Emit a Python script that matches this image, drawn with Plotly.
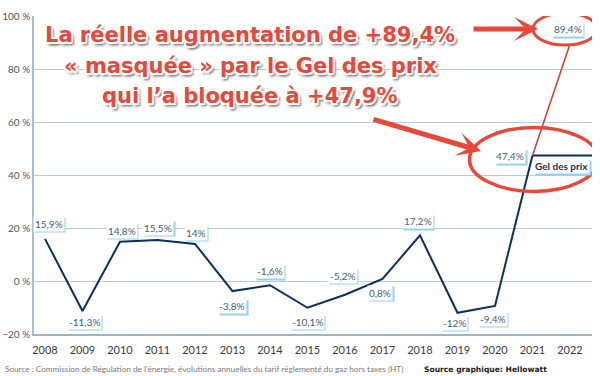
import plotly.graph_objects as go

# ---------------- data ----------------
years = [2008, 2009, 2010, 2011, 2012, 2013, 2014, 2015, 2016, 2017, 2018, 2019, 2020, 2021]
values = [15.9, -11.3, 14.8, 15.5, 14.0, -3.8, -1.6, -10.1, -5.2, 0.8, 17.2, -12.0, -9.4, 47.4]
labels = ["15,9%", "-11,3%", "14,8%", "15,5%", "14%", "-3,8%", "-1,6%", "-10,1%",
          "-5,2%", "0,8%", "17,2%", "-12%", "-9,4%", "47,4%"]
real_year = 2022
real_value = 89.4
real_label = "89,4%"
gel_label = "Gel des prix"
tick_years = list(range(2008, 2023))
title_lines = ["La réelle augmentation de +89,4%",
               "« masquée » par le Gel des prix",
               "qui l’a bloquée à +47,9%"]
source_text = ("Source : Commission de Régulation de l'énergie, évolutions annuelles du tarif "
               "réglementé du gaz hors taxes (HT)")
credit_text = "Source graphique: Hellowatt"

# ---------------- style ----------------
W, H = 600, 376
ML, MR, MT, MB = 34, 8, 16, 42
XR = [2007.707, 2022.587]
YR = [-20, 100]
NAVY = "#0b2f5e"
RED = "#e8473a"
GRID = "#b9cbdd"
LBL_TXT = "#44607e"
LBL_SHADOW = "#93d2ea"
# label placement: (dx, dy) in px, dy positive = up
label_pos = [(4, 15), (2, -11), (2, 11), (1, 12), (1, 11), (0, -15), (0, 14), (0, -14),
             (-2, 19), (-2, -14), (-2, 14), (-3, -10), (-2, -13), (-22, -1)]

PW = W - ML - MR
PH = H - MT - MB


def px(x):
    return (x - ML) / PW


def py(y):
    return (H - MB - y) / PH


fig = go.Figure()

fig.add_trace(go.Scatter(x=years, y=values, mode="lines",
                         line=dict(color=NAVY, width=2), hoverinfo="skip"))
# Gel des prix plateau
fig.add_trace(go.Scatter(x=[years[-1], XR[1]], y=[values[-1], values[-1]], mode="lines",
                         line=dict(color=NAVY, width=2), hoverinfo="skip"))
# real increase
fig.add_trace(go.Scatter(x=[years[-1], real_year], y=[values[-1], real_value], mode="lines",
                         line=dict(color="#d23a2f", width=1.5), hoverinfo="skip"))

annotations = []


def add_label(x, y, text, dx, dy, color=LBL_TXT, weight="normal", size=10):
    # shadow box (right/bottom edge)
    annotations.append(dict(x=x, y=y, xref="x", yref="y", text=text, showarrow=False,
                            xshift=dx + 1.5, yshift=dy - 1.5,
                            font=dict(family="Lato", size=size, color=LBL_SHADOW, weight=weight),
                            bgcolor=LBL_SHADOW, borderpad=1))
    annotations.append(dict(x=x, y=y, xref="x", yref="y", text=text, showarrow=False,
                            xshift=dx, yshift=dy,
                            font=dict(family="Lato", size=size, color=color, weight=weight),
                            bgcolor="white", borderpad=1))


for yr, v, t, (dx, dy) in zip(years, values, labels, label_pos):
    add_label(yr, v, t, dx, dy)
add_label(real_year, real_value, real_label, -2, 15)
add_label(real_year, values[-1], gel_label, -8, -11, color="#1d3250", weight="bold")

# big title
outline = ("1.5px 1.5px 0 #fff, -1.5px -1.5px 0 #fff, 1.5px -1.5px 0 #fff, -1.5px 1.5px 0 #fff, "
           "0 2px 0 #fff, 2px 0 0 #fff, 0 -2px 0 #fff, -2px 0 0 #fff, "
           "3px 3px 2px rgba(0,0,0,0.45), 1px 4px 3px rgba(0,0,0,0.3)")
for i, line in enumerate(title_lines):
    annotations.append(dict(x=px(250), y=py(35 + 30.5 * i), xref="paper", yref="paper",
                            text=line, showarrow=False, xanchor="center", yanchor="middle",
                            font=dict(family="DejaVu Sans", size=21, color=RED, weight="bold",
                                      shadow=outline)))

# arrows
annotations.append(dict(x=px(538), y=py(29), xref="paper", yref="paper", text="",
                        showarrow=True, arrowhead=3, arrowsize=0.8, arrowwidth=5,
                        arrowcolor=RED, ax=-66, ay=0, standoff=0))
annotations.append(dict(x=px(481), y=py(151), xref="paper", yref="paper", text="",
                        showarrow=True, arrowhead=3, arrowsize=0.8, arrowwidth=5,
                        arrowcolor=RED, ax=-109, ay=-32, standoff=0))

# sources
annotations.append(dict(x=px(3), y=py(369), xref="paper", yref="paper", xanchor="left",
                        yanchor="middle", text=source_text, showarrow=False,
                        font=dict(family="Lato", size=8.2, color="#7a7a7a")))
annotations.append(dict(x=px(422), y=py(369), xref="paper", yref="paper", xanchor="left",
                        yanchor="middle", text=credit_text, showarrow=False,
                        font=dict(family="DejaVu Sans", size=7.6, color="#222", weight="bold")))

shapes = [
    dict(type="circle", xref="x", yref="y", xsizemode="pixel", ysizemode="pixel",
         xanchor=real_year, yanchor=real_value, x0=-37, x1=27, y0=-1, y1=31,
         line=dict(color=RED, width=3)),
    dict(type="circle", xref="x", yref="y", xsizemode="pixel", ysizemode="pixel",
         xanchor=years[-1], yanchor=values[-1], x0=-63, x1=66, y0=-36, y1=28,
         line=dict(color=RED, width=3.5)),
]

fig.update_layout(
    width=W, height=H,
    margin=dict(l=ML, r=MR, t=MT, b=MB, autoexpand=False),
    paper_bgcolor="white", plot_bgcolor="white",
    showlegend=False,
    annotations=annotations,
    shapes=shapes,
    xaxis=dict(range=XR, tickmode="array", tickvals=tick_years, ticktext=[str(y) for y in tick_years],
               showgrid=False, zeroline=False, showline=True, linecolor="#9fb3c8", linewidth=1.5,
               ticks="", ticklabelstandoff=5,
               tickfont=dict(family="Lato", size=11, color="#3a3a3a")),
    yaxis=dict(range=YR, dtick=20, ticksuffix=" %", showgrid=True, gridcolor=GRID, gridwidth=1,
               zeroline=True, zerolinecolor=GRID, zerolinewidth=1,
               showline=True, linecolor="#aabdd0", linewidth=1.5, ticks="",
               tickfont=dict(family="Lato", size=10, color="#555")),
)

fig.write_html("out.html", config={"displayModeBar": False},
               post_script="document.body.style.margin='0px';")
